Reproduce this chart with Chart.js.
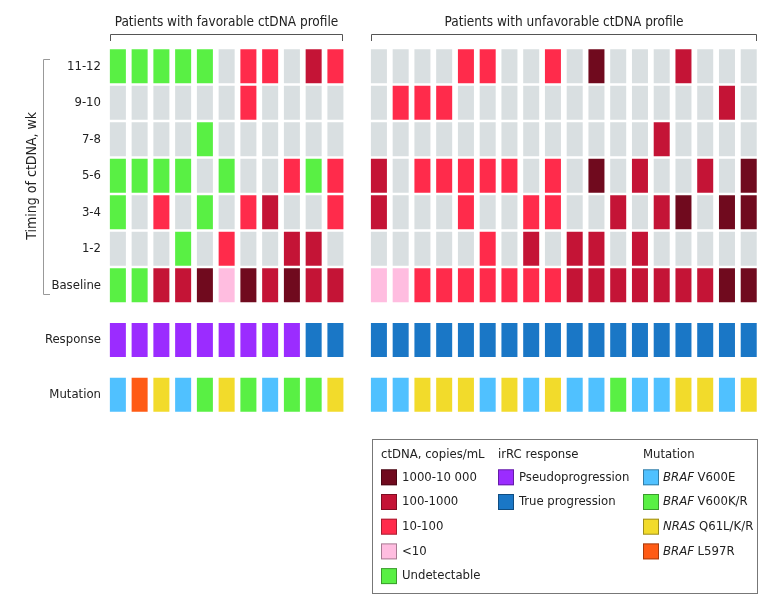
<!DOCTYPE html>
<html>
<head>
<meta charset="utf-8">
<script src="https://cdn.jsdelivr.net/npm/chart.js@4.4.1/dist/chart.umd.min.js"></script>
<style>
  html, body { margin: 0; padding: 0; background: #fff; }
  #wrap { width: 783px; height: 608px; }
</style>
</head>
<body>
<div id="wrap"><canvas id="chart" width="783" height="608"></canvas></div>
<script>
// ctDNA codes: 0 = no sample, 1 = undetectable, 2 = <10, 3 = 10-100, 4 = 100-1000, 5 = 1000-10 000
const groupSizes = [11, 18];
const groupTitles = ["Patients with favorable ctDNA profile", "Patients with unfavorable ctDNA profile"];
const timeLabels = ["Baseline", "1-2", "3-4", "5-6", "7-8", "9-10", "11-12"];

const ctdnaBaseline = [1,1,4,4,5,2,5,4,5,4,4,  2,2,3,3,3,3,3,3,3,4,4,4,4,4,4,4,5,5];
const ctdnaWk1_2    = [0,0,0,1,0,3,0,0,4,4,0,  0,0,0,0,0,3,0,4,0,4,4,0,4,0,0,0,0,0];
const ctdnaWk3_4    = [1,0,3,0,1,0,3,4,0,0,3,  4,0,0,0,3,0,0,3,3,0,0,4,0,4,5,0,5,5];
const ctdnaWk5_6    = [1,1,1,1,0,1,0,0,3,1,3,  4,0,3,3,3,3,3,0,3,0,5,0,4,0,0,4,0,5];
const ctdnaWk7_8    = [0,0,0,0,1,0,0,0,0,0,0,  0,0,0,0,0,0,0,0,0,0,0,0,0,4,0,0,0,0];
const ctdnaWk9_10   = [0,0,0,0,0,0,3,0,0,0,0,  0,3,3,3,0,0,0,0,0,0,0,0,0,0,0,0,4,0];
const ctdnaWk11_12  = [1,1,1,1,1,0,3,3,0,4,3,  0,0,0,0,3,3,0,0,3,0,5,0,0,0,4,0,0,0];

// irRC response: 0 = pseudoprogression, 1 = true progression
const response = [0,0,0,0,0,0,0,0,0,1,1,  1,1,1,1,1,1,1,1,1,1,1,1,1,1,1,1,1,1];
// mutation: 0 = BRAF V600E, 1 = BRAF V600K/R, 2 = NRAS Q61L/K/R, 3 = BRAF L597R
const mutation = [0,3,2,0,1,2,1,0,1,1,2,  0,0,2,2,2,0,2,0,2,0,0,1,0,0,2,2,0,2];

const ctdnaLevelLabels = ["Undetectable", "<10", "10-100", "100-1000", "1000-10 000"];
const responseLabels = ["Pseudoprogression", "True progression"];
const mutationGenes = ["BRAF", "BRAF", "NRAS", "BRAF"];
const mutationVariants = ["V600E", "V600K/R", "Q61L/K/R", "L597R"];

// colours
const ctdnaColors = ["#d9dfe1", "#59f044", "#ffbde0", "#ff2b4b", "#c41436", "#700a1e"];
const responseColors = ["#9b2cff", "#1a77c6"];
const mutationColors = ["#50c1ff", "#59f044", "#f2db2b", "#ff5b15"];

const FONT = '"DejaVu Sans Condensed", "Liberation Sans Narrow", sans-serif';
const TEXT = "#222";
const HALF = 0.466;

// slots along x: favorable patients, one empty slot, unfavorable patients
const slotLabels = [];
for (let i = 0; i < groupSizes[0]; i++) slotLabels.push("F" + (i + 1));
slotLabels.push("");
for (let i = 0; i < groupSizes[1]; i++) slotLabels.push("U" + (i + 1));

function slotIndex(i) {
    return i < groupSizes[0] ? i : i + 1;
}

function rowDataset(label, codes, pos, palette) {
    const data = slotLabels.map(() => null);
    const colors = slotLabels.map(() => "rgba(0,0,0,0)");
    codes.forEach((c, i) => {
        const s = slotIndex(i);
        data[s] = [pos - HALF, pos + HALF];
        colors[s] = palette[c];
    });
    return {
        label,
        data,
        backgroundColor: colors,
        borderWidth: 0,
        grouped: false,
        barPercentage: 0.736,
        categoryPercentage: 1
    };
}

const ctdnaRows = [ctdnaBaseline, ctdnaWk1_2, ctdnaWk3_4, ctdnaWk5_6, ctdnaWk7_8, ctdnaWk9_10, ctdnaWk11_12];
const datasets = [
    rowDataset("Mutation", mutation, 0, mutationColors),
    rowDataset("Response", response, 1.5, responseColors)
];
ctdnaRows.forEach((codes, k) => datasets.push(rowDataset(timeLabels[k], codes, 3 + k, ctdnaColors)));

const tickPos = [0, 1.5, 3, 4, 5, 6, 7, 8, 9];
const tickText = ["Mutation", "Response", ...timeLabels];

const decorations = {
    id: "decorations",
    afterDraw(chart) {
        const { ctx } = chart;
        const x = chart.scales.x;
        const y = chart.scales.y;
        const barW = x.getPixelForValue(1) - x.getPixelForValue(0);
        const halfBar = barW * 0.736 / 2;

        ctx.save();
        ctx.textBaseline = "middle";

        // group titles with brackets
        let start = 0;
        groupSizes.forEach((n, g) => {
            const first = slotIndex(start);
            const last = slotIndex(start + n - 1);
            const x0 = Math.round(x.getPixelForValue(first) - halfBar) + 0.5;
            const x1 = Math.round(x.getPixelForValue(last) + halfBar) - 0.5;
            ctx.fillStyle = TEXT;
            ctx.font = "13.5px " + FONT;
            ctx.textAlign = "center";
            ctx.fillText(groupTitles[g], (x0 + x1) / 2, 22);
            ctx.strokeStyle = "#555";
            ctx.lineWidth = 1;
            ctx.beginPath();
            ctx.moveTo(x0, 41);
            ctx.lineTo(x0, 34.5);
            ctx.lineTo(x1, 34.5);
            ctx.lineTo(x1, 41);
            ctx.stroke();
            start += n;
        });

        // y bracket for timing rows
        const yTop = Math.round(y.getPixelForValue(9.5) + 11) + 0.5;
        const yBot = Math.round(y.getPixelForValue(2.5) - 10) + 0.5;
        ctx.strokeStyle = "#999";
        ctx.beginPath();
        ctx.moveTo(50, yTop);
        ctx.lineTo(43.5, yTop);
        ctx.lineTo(43.5, yBot);
        ctx.lineTo(50, yBot);
        ctx.stroke();

        ctx.save();
        ctx.translate(32, y.getPixelForValue(6));
        ctx.rotate(-Math.PI / 2);
        ctx.textAlign = "center";
        ctx.fillStyle = TEXT;
        ctx.font = "14px " + FONT;
        ctx.fillText("Timing of ctDNA, wk", 0, 0);
        ctx.restore();

        // legend
        ctx.strokeStyle = "#777";
        ctx.strokeRect(372.5, 439.5, 385, 154);
        const headY = 455;
        const itemY0 = 477.3;
        const itemStep = 24.7;
        const LFONT = "13px " + FONT;

        function swatch(sx, cy, color) {
            ctx.fillStyle = color;
            ctx.fillRect(sx, cy - 8, 16, 16);
            ctx.strokeStyle = "rgba(0,0,0,0.35)";
            ctx.strokeRect(sx + 0.5, cy - 7.5, 15, 15);
        }

        ctx.textAlign = "left";
        ctx.font = LFONT;
        ctx.fillStyle = TEXT;
        ctx.fillText("ctDNA, copies/mL", 381, headY);
        ctx.fillText("irRC response", 498, headY);
        ctx.fillText("Mutation", 643, headY);

        for (let k = 0; k < ctdnaLevelLabels.length; k++) {
            const code = ctdnaLevelLabels.length - k;
            const cy = itemY0 + k * itemStep;
            swatch(381, cy, ctdnaColors[code]);
            ctx.fillStyle = TEXT;
            ctx.font = LFONT;
            ctx.fillText(ctdnaLevelLabels[code - 1], 402, cy);
        }
        responseLabels.forEach((lab, k) => {
            const cy = itemY0 + k * itemStep;
            swatch(498, cy, responseColors[k]);
            ctx.fillStyle = TEXT;
            ctx.font = LFONT;
            ctx.fillText(lab, 519, cy);
        });
        mutationGenes.forEach((gene, k) => {
            const cy = itemY0 + k * itemStep;
            swatch(643, cy, mutationColors[k]);
            ctx.fillStyle = TEXT;
            ctx.font = "italic " + LFONT;
            ctx.fillText(gene, 663, cy);
            const w = ctx.measureText(gene + " ").width;
            ctx.font = LFONT;
            ctx.fillText(mutationVariants[k], 663 + w, cy);
        });

        ctx.restore();
    }
};

new Chart(document.getElementById("chart"), {
    type: "bar",
    data: { labels: slotLabels, datasets },
    options: {
        responsive: false,
        animation: false,
        layout: { padding: { top: 48, bottom: 195, left: 0, right: 23.4 } },
        plugins: {
            legend: { display: false },
            tooltip: { enabled: false }
        },
        scales: {
            x: { type: "category", display: false },
            y: {
                type: "linear",
                min: -0.5,
                max: 9.5,
                grid: { display: false, drawTicks: false },
                border: { display: false },
                afterFit(scale) { scale.width = 107; },
                afterBuildTicks(scale) { scale.ticks = tickPos.map(v => ({ value: v })); },
                ticks: {
                    padding: 6,
                    color: TEXT,
                    font: { family: FONT, size: 13 },
                    callback: (v, i) => tickText[i]
                }
            }
        }
    },
    plugins: [decorations]
});
</script>
</body>
</html>
